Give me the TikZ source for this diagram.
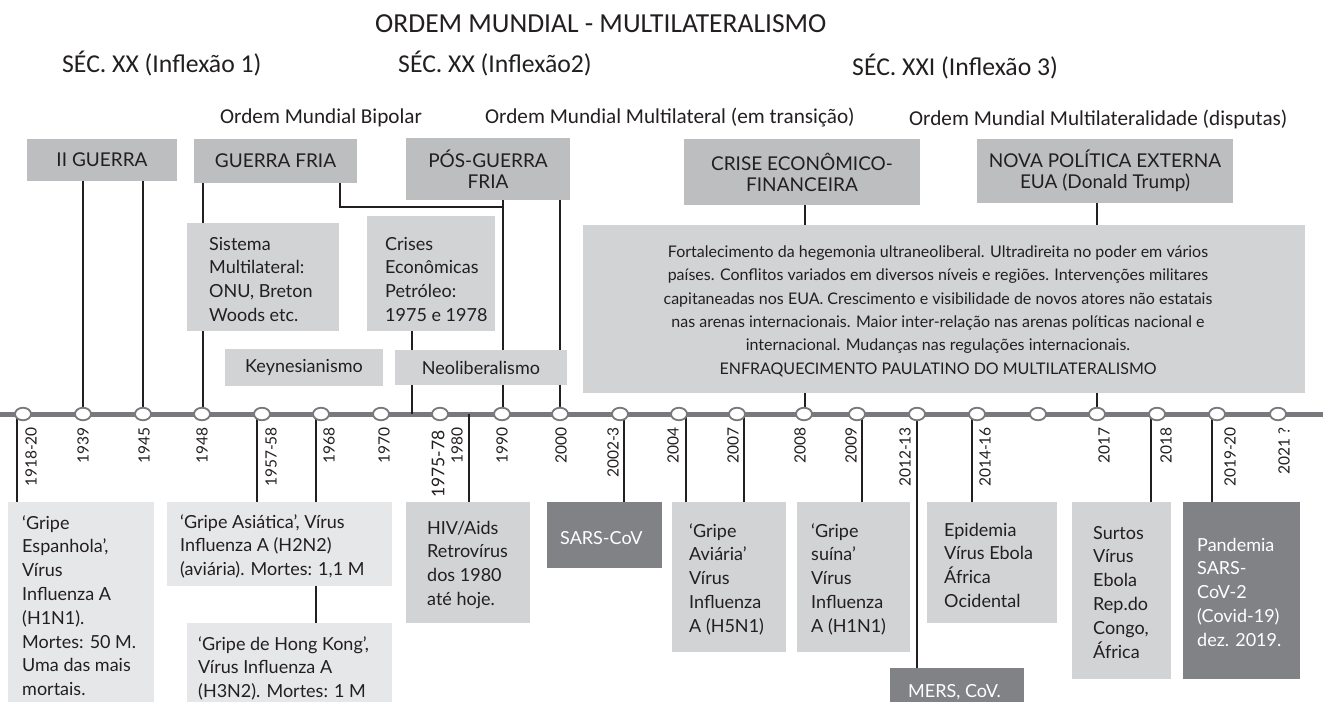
\documentclass[tikz,border=0pt]{standalone}
\usepackage{fontspec}
\setmainfont{Lato}
\newfontfamily\hdrfont{Carlito}
\usetikzlibrary{shapes.geometric}
\definecolor{ink}{RGB}{35,31,32}
\definecolor{hdrgray}{RGB}{188,190,192}
\definecolor{lgray}{RGB}{209,211,212}
\definecolor{vlgray}{RGB}{230,231,232}
\definecolor{dgray}{RGB}{128,130,133}
\definecolor{axgray}{RGB}{120,121,124}
\pgfdeclarelayer{background}
\pgfsetlayers{background,main}
\begin{document}
\begin{tikzpicture}[x=1pt,y=-1pt,
  boxbase/.style={anchor=north west, inner sep=0pt, outer sep=0pt},
  hbox/.style={boxbase, fill=hdrgray, align=center, text=ink, font=\fontsize{19}{21}\selectfont},
  lbox/.style={boxbase, fill=lgray},
  vlbox/.style={boxbase, fill=vlgray},
  dbox/.style={boxbase, fill=dgray},
  btxt/.style={anchor=base west, inner sep=0pt, align=left, text=ink, font=\fontsize{18}{23.8}\selectfont},
  wtxt/.style={btxt, text=white},
  ctxt/.style={inner sep=0pt, align=center, text=ink, font=\fontsize{16}{23.4}\selectfont},
  htxt/.style={anchor=base west, inner sep=0pt, text=ink},
  sectxt/.style={htxt, font=\hdrfont\fontsize{25.7}{28}\selectfont},
  omtxt/.style={htxt, font=\hdrfont\fontsize{21.2}{24}\selectfont},
  yr/.style={rotate=90, anchor=east, inner sep=0pt, text=ink, font=\fontsize{15.5}{18}\selectfont},
  dot/.style={ellipse, draw=axgray, line width=1.8pt, fill=white, minimum width=16pt, minimum height=12.5pt, inner sep=0pt},
  conn/.style={draw=ink, line width=2.5pt},
  axisline/.style={draw=axgray, line width=5pt}
]
\useasboundingbox (0,0) rectangle (1323,702);
\begin{pgfonlayer}{background}
\fill[white] (0,0) rectangle (1323,702);
\end{pgfonlayer}

% ---------- headings ----------
\node[htxt, font=\hdrfont\fontsize{27.5}{30}\selectfont] (title) at (375,32) {ORDEM MUNDIAL - MULTILATERALISMO};
\node[sectxt] (sec1) at (62,72) {SÉC. XX (Inflexão 1)};
\node[sectxt] (sec2) at (398,72) {SÉC. XX (Inflexão2)};
\node[sectxt] (sec3) at (852,75) {SÉC. XXI (Inflexão 3)};
\node[omtxt] (om1) at (220,123) {Ordem Mundial Bipolar};
\node[omtxt] (om2) at (485,123) {Ordem Mundial Multilateral (em transição)};
\node[omtxt] (om3) at (909,125) {Ordem Mundial Multilateralidade (disputas)};

% ---------- top boxes ----------
\node[hbox, minimum width=150pt, minimum height=42pt] (iig) at (27,139) {II GUERRA};
\node[hbox, minimum width=163pt, minimum height=44pt] (gfria) at (194,139) {GUERRA FRIA};
\node[hbox, minimum width=164pt, minimum height=62pt] (pos) at (406,138) {PÓS-GUERRA\\FRIA};
\node[hbox, minimum width=236pt, minimum height=66pt] (crise) at (684,139) {CRISE ECONÔMICO-\\FINANCEIRA};
\node[hbox, minimum width=256pt, minimum height=64pt] (nova) at (977,139) {NOVA POLÍTICA EXTERNA\\EUA (Donald Trump)};

% ---------- middle boxes ----------
\node[lbox, minimum width=152pt, minimum height=108pt] (sist) at (187,223) {};
\node[btxt] (sistT) at (209,321.4) {Sistema\\Multilateral:\\ONU, Breton\\Woods etc.};
\node[lbox, minimum width=128pt, minimum height=115pt] (crises) at (367,216) {};
\node[btxt] (crisesT) at (385,321.4) {Crises\\Econômicas\\Petróleo:\\1975 e 1978};
\node[lbox, minimum width=158pt, minimum height=37pt, font=\fontsize{18}{20}\selectfont, text=ink] (keyn) at (225,349) {Keynesianismo};
\node[lbox, minimum width=172pt, minimum height=35pt, font=\fontsize{18}{20}\selectfont, text=ink] (neol) at (395,350) {Neoliberalismo};
\node[lbox, minimum width=722pt, minimum height=168pt] (big) at (583,225) {};
\node[ctxt] (bigT) at (938,311) {Fortalecimento da hegemonia ultraneoliberal. Ultradireita no poder em vários\\
países. Conflitos variados em diversos níveis e regiões. Intervenções militares\\
capitaneadas nos EUA. Crescimento e visibilidade de novos atores não estatais\\
nas arenas internacionais. Maior inter-relação nas arenas políticas nacional e\\
internacional. Mudanças nas regulações internacionais.\\
ENFRAQUECIMENTO PAULATINO DO MULTILATERALISMO};

% ---------- lower boxes ----------
\node[vlbox, minimum width=146pt, minimum height=200pt] (esp) at (8,502) {};
\node[btxt] (espT) at (22,695.6) {‘Gripe\\Espanhola’,\\Vírus\\Influenza A\\(H1N1).\\Mortes: 50 M.\\Uma das mais\\mortais.};
\node[vlbox, minimum width=225pt, minimum height=84pt] (asia) at (167,502) {};
\node[btxt] (asiaT) at (180,575.6) {‘Gripe Asiática’, Vírus\\Influenza A (H2N2)\\(aviária). Mortes: 1,1 M};
\node[vlbox, minimum width=205pt, minimum height=79pt] (hk) at (187,623) {};
\node[btxt] (hkT) at (198,697.6) {‘Gripe de Hong Kong’,\\Vírus Influenza A\\(H3N2). Mortes: 1 M};
\node[lbox, minimum width=124pt, minimum height=121pt] (hiv) at (406,502) {};
\node[btxt] (hivT) at (427,605.4) {HIV/Aids\\Retrovírus\\dos 1980\\até hoje.};
\node[dbox, minimum width=115pt, minimum height=66pt] (sars) at (547,502) {};
\node[wtxt] (sarsT) at (560,544) {SARS-CoV};
\node[lbox, minimum width=114pt, minimum height=150pt] (avi) at (672,502) {};
\node[btxt] (aviT) at (689,632.2) {‘Gripe\\Aviária’\\Vírus\\Influenza\\A (H5N1)};
\node[lbox, minimum width=113pt, minimum height=150pt] (sui) at (797,502) {};
\node[btxt] (suiT) at (811,632.2) {‘Gripe\\suína’\\Vírus\\Influenza\\A (H1N1)};
\node[dbox, minimum width=134pt, minimum height=34pt] (mers) at (890,668) {};
\node[wtxt] (mersT) at (908,697) {MERS, CoV.};
\node[lbox, minimum width=130pt, minimum height=121pt] (epid) at (927,502) {};
\node[btxt] (epidT) at (944,607.4) {Epidemia\\Vírus Ebola\\África\\Ocidental};
\node[lbox, minimum width=99pt, minimum height=177pt] (surt) at (1072,502) {};
\node[btxt] (surtT) at (1093,658) {Surtos\\Vírus\\Ebola\\Rep.do\\Congo,\\África};
\node[dbox, minimum width=117pt, minimum height=177pt] (pand) at (1183,502) {};
\node[wtxt] (pandT) at (1197,646.2) {Pandemia\\SARS-\\CoV-2\\(Covid-19)\\dez. 2019.};

% ---------- timeline dots ----------
\foreach \n/\x in {1918/23,1939/83,1945/143,1948/202,1957/262,1968/321,1970/381,1975/440,1990/502,2000/560,2002/620,2004/679,2007/737,2008/804,2009/857,2012/917,2014/977,2015/1038,2017/1097,2018/1157,2019/1217,2021/1278}
  \node[dot] (c\n) at (\x,414) {};

% year labels
\node[yr] (y1918) at (31,427) {1918-20};
\node[yr] (y1939) at (83,427) {1939};
\node[yr] (y1945) at (144,427) {1945};
\node[yr] (y1948) at (202,427) {1948};
\node[yr] (y1957) at (271,427) {1957-58};
\node[yr] (y1968) at (329,427) {1968};
\node[yr] (y1970) at (384,427) {1970};
\node[yr, font=\fontsize{17.5}{20}\selectfont] (y1975) at (438,430) {1975-78};
\node[yr] (y1980) at (457,427) {1980};
\node[yr] (y1990) at (502,427) {1990};
\node[yr] (y2000) at (561,427) {2000};
\node[yr] (y2002) at (613,427) {2002-3};
\node[yr] (y2004) at (673,427) {2004};
\node[yr] (y2007) at (733,427) {2007};
\node[yr] (y2008) at (800,427) {2008};
\node[yr] (y2009) at (851,427) {2009};
\node[yr] (y2012) at (905,427) {2012-13};
\node[yr] (y2014) at (985,427) {2014-16};
\node[yr] (y2017) at (1104,427) {2017};
\node[yr] (y2018) at (1166,427) {2018};
\node[yr] (y2019) at (1230,427) {2019-20};
\node[yr] (y2021) at (1284,427) {2021 ?};

% coordinates on the axis
\coordinate (axL) at (0,414);
\coordinate (axR) at (1323,414);
\coordinate (u1948) at (203,414);
\coordinate (u1990) at (503,414);
\coordinate (k1972) at (412,414);
\coordinate (k1980) at (469,414);
\coordinate (u2008) at (805,414);
\coordinate (gfk) at (340,207);
\coordinate (l1918) at (17,414);
\coordinate (l1957) at (257,414);
\coordinate (l1968) at (316,414);
\coordinate (l2002) at (624,414);
\coordinate (l2004) at (686,414);
\coordinate (l2007) at (744,414);
\coordinate (l2009) at (862,414);
\coordinate (l2014) at (972,414);
\coordinate (l2018) at (1151,414);
\coordinate (l2019) at (1212,414);

\begin{pgfonlayer}{background}
\draw[axisline] (axL) -- (axR);
% upper connectors
\draw[conn] (iig.south -| c1939) -- (c1939.center);
\draw[conn] (iig.south -| c1945) -- (c1945.center);
\draw[conn] (gfria.south -| u1948) -- (u1948);
\draw[conn] (gfria.south -| gfk) -- (gfk) -- (gfk -| u1990);
\draw[conn] (pos.south -| u1990) -- (u1990);
\draw[conn] (pos.south -| c2000) -- (c2000.center);
\draw[conn] (crises.south -| k1972) -- (k1972);
\draw[conn] (crise.south -| u2008) -- (u2008);
\draw[conn] (nova.south -| c2017) -- (c2017.center);
% lower connectors
\draw[conn] (l1918) -- (esp.north -| l1918);
\draw[conn] (l1957) -- (asia.north -| l1957);
\draw[conn] (l1968) -- (hk.north -| l1968);
\draw[conn] (k1980) -- (hiv.north -| k1980);
\draw[conn] (l2002) -- (sars.north -| l2002);
\draw[conn] (l2004) -- (avi.north -| l2004);
\draw[conn] (l2007) -- (avi.north -| l2007);
\draw[conn] (l2009) -- (sui.north -| l2009);
\draw[conn] (c2012.center) -- (mers.north -| c2012);
\draw[conn] (l2014) -- (epid.north -| l2014);
\draw[conn] (l2018) -- (surt.north -| l2018);
\draw[conn] (l2019) -- (pand.north -| l2019);
\end{pgfonlayer}
\end{tikzpicture}
\end{document}
